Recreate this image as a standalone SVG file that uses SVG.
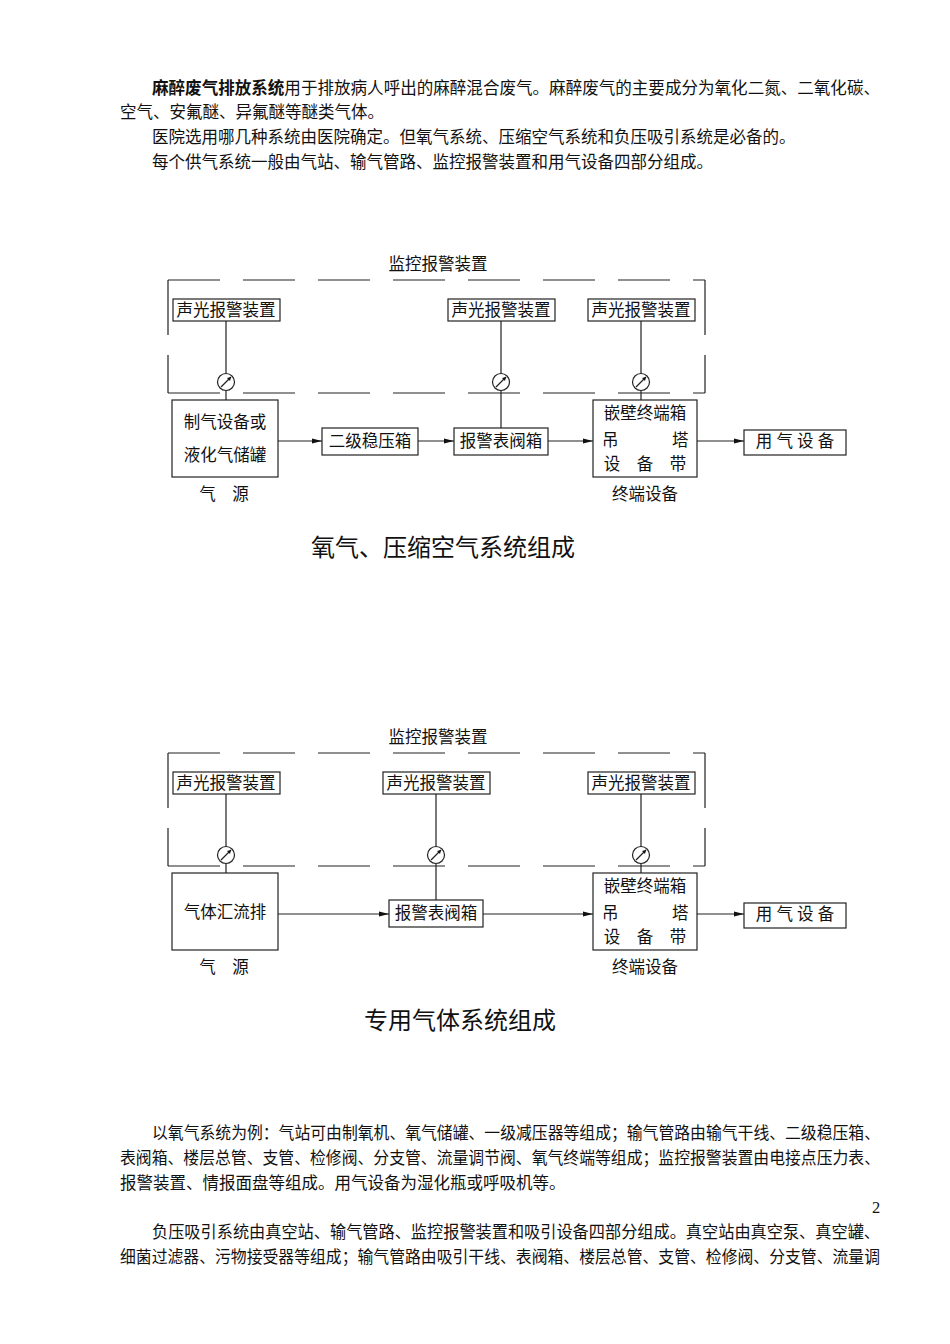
<svg xmlns="http://www.w3.org/2000/svg" width="950" height="1344" viewBox="0 0 950 1344">
<style>
text{font-family:"Liberation Serif","Noto Sans CJK SC",serif;font-size:16.5px;fill:#111}
.t{font-size:24px}
.x{font-size:16.5px}
.b{fill:#fff;stroke:#222;stroke-width:1.2}
.l{stroke:#222;stroke-width:1.2;fill:none}
.d{stroke:#222;stroke-width:1.2;fill:none;stroke-dasharray:52 23}
.m{text-anchor:middle}
</style>
<defs><marker id="a" markerWidth="10" markerHeight="6" refX="10" refY="3" orient="auto" markerUnits="userSpaceOnUse"><path d="M0,0.5L10,3L0,5.5z" fill="#111"/></marker>
<g id="gauge"><circle r="8.5" class="b"/><path d="M-5,5L5,-5" class="l"/><path d="M5,-5L1,-4L4,-1z" fill="#111"/></g></defs>
<text x="152" y="94" textLength="728" lengthAdjust="spacingAndGlyphs"><tspan font-weight="bold" font-family="Noto Sans CJK SC,sans-serif">麻醉废气排放系统</tspan>用于排放病人呼出的麻醉混合废气。麻醉废气的主要成分为氧化二氮、二氧化碳、</text>
<text x="120" y="118">空气、安氟醚、异氟醚等醚类气体。</text>
<text x="152" y="143">医院选用哪几种系统由医院确定。但氧气系统、压缩空气系统和负压吸引系统是必备的。</text>
<text x="152" y="168">每个供气系统一般由气站、输气管路、监控报警装置和用气设备四部分组成。</text>
<g id="diagram1">
<text x="438" y="270" class="m">监控报警装置</text>
<g id="frame1"><path d="M168,280H705" class="d"/><path d="M168,393H705" class="d"/><path d="M168,280V393M705,280V393" class="d" style="stroke-dasharray:55 20"/></g>
<g id="conn1" class="l">
<path d="M226,320V374M226,391V400M501,320V374M501,391V428M641,320V374M641,391V400"/>
<path d="M278,441H322" marker-end="url(#a)"/><path d="M418,441H454" marker-end="url(#a)"/><path d="M548,441H593" marker-end="url(#a)"/><path d="M697,441H744" marker-end="url(#a)"/>
</g>
<g id="alarm1a"><rect x="173" y="299" width="107" height="22" class="b"/><text x="226" y="316" class="m">声光报警装置</text></g>
<g id="alarm1b"><rect x="448" y="299" width="107" height="22" class="b"/><text x="501" y="316" class="m">声光报警装置</text></g>
<g id="alarm1c"><rect x="588" y="299" width="107" height="22" class="b"/><text x="641" y="316" class="m">声光报警装置</text></g>
<use href="#gauge" x="226" y="382"/><use href="#gauge" x="501" y="382"/><use href="#gauge" x="641" y="382"/>
<g id="src1"><rect x="172" y="400" width="106" height="77" class="b"/><text x="225" y="428" class="m">制气设备或</text><text x="225" y="461" class="m">液化气储罐</text><text x="224" y="500" class="m">气　源</text></g>
<g id="reg1"><rect x="322" y="428" width="96" height="27" class="b"/><text x="370" y="447" class="m">二级稳压箱</text></g>
<g id="valve1"><rect x="454" y="428" width="94" height="27" class="b"/><text x="501" y="447" class="m">报警表阀箱</text></g>
<g id="term1"><rect x="593" y="400" width="104" height="77" class="b"/><text x="645" y="419" class="m">嵌壁终端箱</text><text x="602" y="446">吊</text><text x="672" y="446">塔</text><text x="645" y="470" class="m">设　备　带</text><text x="645" y="500" class="m">终端设备</text></g>
<g id="use1"><rect x="744" y="430" width="102" height="25" class="b"/><text x="795" y="447" class="m">用 气 设 备</text></g>
<text x="443" y="556" class="t m">氧气、压缩空气系统组成</text>
</g>
<g id="diagram2">
<text x="438" y="743" class="m">监控报警装置</text>
<g id="frame2"><path d="M168,753H705" class="d"/><path d="M168,866H705" class="d"/><path d="M168,753V866M705,753V866" class="d" style="stroke-dasharray:55 20"/></g>
<g id="conn2" class="l">
<path d="M226,793V847M226,864V873M436,793V847M436,864V900M641,793V847M641,864V873"/>
<path d="M278,914H389" marker-end="url(#a)"/><path d="M483,914H593" marker-end="url(#a)"/><path d="M697,914H744" marker-end="url(#a)"/>
</g>
<g id="alarm2a"><rect x="173" y="772" width="107" height="22" class="b"/><text x="226" y="789" class="m">声光报警装置</text></g>
<g id="alarm2b"><rect x="383" y="772" width="107" height="22" class="b"/><text x="436" y="789" class="m">声光报警装置</text></g>
<g id="alarm2c"><rect x="588" y="772" width="107" height="22" class="b"/><text x="641" y="789" class="m">声光报警装置</text></g>
<use href="#gauge" x="226" y="855"/><use href="#gauge" x="436" y="855"/><use href="#gauge" x="641" y="855"/>
<g id="src2"><rect x="172" y="873" width="106" height="77" class="b"/><text x="225" y="918" class="m">气体汇流排</text><text x="224" y="973" class="m">气　源</text></g>
<g id="valve2"><rect x="389" y="900" width="94" height="27" class="b"/><text x="436" y="919" class="m">报警表阀箱</text></g>
<g id="term2"><rect x="593" y="873" width="104" height="77" class="b"/><text x="645" y="892" class="m">嵌壁终端箱</text><text x="602" y="919">吊</text><text x="672" y="919">塔</text><text x="645" y="943" class="m">设　备　带</text><text x="645" y="973" class="m">终端设备</text></g>
<g id="use2"><rect x="744" y="903" width="102" height="25" class="b"/><text x="795" y="920" class="m">用 气 设 备</text></g>
<text x="460" y="1029" class="t m">专用气体系统组成</text>
</g>
<text x="152" y="1139" textLength="728" lengthAdjust="spacingAndGlyphs">以氧气系统为例：气站可由制氧机、氧气储罐、一级减压器等组成；输气管路由输气干线、二级稳压箱、</text>
<text x="120" y="1164" textLength="760" lengthAdjust="spacingAndGlyphs">表阀箱、楼层总管、支管、检修阀、分支管、流量调节阀、氧气终端等组成；监控报警装置由电接点压力表、</text>
<text x="120" y="1189">报警装置、情报面盘等组成。用气设备为湿化瓶或呼吸机等。</text>
<text x="872" y="1213">2</text>
<text x="152" y="1238" textLength="728" lengthAdjust="spacingAndGlyphs">负压吸引系统由真空站、输气管路、监控报警装置和吸引设备四部分组成。真空站由真空泵、真空罐、</text>
<text x="120" y="1263" textLength="760" lengthAdjust="spacingAndGlyphs">细菌过滤器、污物接受器等组成；输气管路由吸引干线、表阀箱、楼层总管、支管、检修阀、分支管、流量调</text>
</svg>
